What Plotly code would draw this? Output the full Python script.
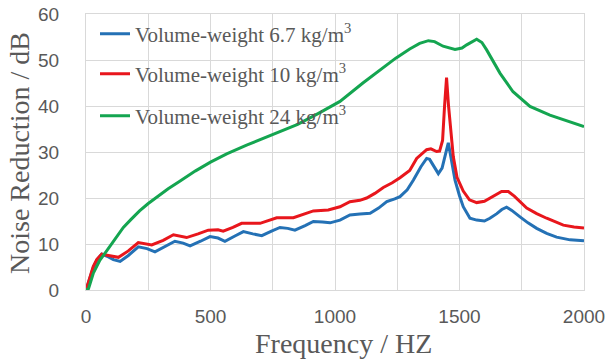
import plotly.graph_objects as go

# ---- data ----
freq_67 = [0, 15, 30, 45, 63, 90, 110, 137, 170, 210, 245, 277, 320, 357, 390, 418, 460, 498,
           530, 558, 600, 632, 670, 706, 745, 779, 810, 839, 880, 913, 950, 980, 1020, 1060,
           1100, 1141, 1175, 1208, 1240, 1261, 1290, 1315, 1345, 1368, 1380, 1395, 1415, 1430,
           1445, 1455, 1465, 1482, 1500, 1515, 1542, 1569, 1600, 1622, 1650, 1670, 1689, 1710,
           1743, 1775, 1810, 1850, 1890, 1944, 2000]
nr_67 = [0, 2.5, 5.0, 6.6, 7.8, 7.2, 6.6, 6.2, 7.5, 9.4, 9.0, 8.3, 9.6, 10.6, 10.2, 9.6, 10.6, 11.6,
         11.3, 10.6, 11.8, 12.7, 12.2, 11.8, 12.8, 13.6, 13.4, 13.0, 14.0, 14.9, 14.8, 14.6, 15.2, 16.3,
         16.5, 16.7, 17.8, 19.2, 19.8, 20.3, 21.8, 23.9, 26.8, 28.6, 28.4, 27.0, 25.3, 26.5,
         29.5, 32.0, 29.0, 23.9, 20.5, 18.1, 15.6, 15.2, 15.0, 15.6, 16.6, 17.5, 18.0, 17.3,
         15.9, 14.6, 13.4, 12.3, 11.5, 10.9, 10.7]

freq_10 = [0, 15, 29, 43, 63, 90, 130, 170, 210, 264, 310, 351, 404, 450, 491, 530, 551, 590, 625,
           699, 730, 766, 833, 870, 913, 973, 1020, 1060, 1100, 1127, 1160, 1194, 1230, 1261, 1300,
           1328, 1368, 1385, 1408, 1420, 1432, 1440, 1448, 1456, 1464, 1475, 1490, 1515, 1540,
           1569, 1600, 1636, 1669, 1696, 1720, 1770, 1810, 1850, 1917, 1960, 2000]
nr_10 = [0, 2.8, 5.1, 6.6, 7.8, 7.5, 7.1, 8.5, 10.3, 9.8, 10.8, 12.0, 11.4, 12.2, 13.0, 13.1, 12.8, 13.6, 14.5,
         14.5, 15.0, 15.7, 15.7, 16.4, 17.2, 17.4, 18.1, 19.2, 19.5, 20.0, 21.0, 22.3, 23.3, 24.4, 26.0,
         28.6, 30.5, 30.7, 30.1, 30.2, 32.5, 40.0, 46.2, 40.0, 35.0, 29.0, 24.5, 21.5, 19.6,
         19.0, 19.3, 20.3, 21.4, 21.4, 20.4, 17.8, 16.6, 15.6, 14.1, 13.7, 13.5]

freq_24 = [0, 10, 29, 56, 83, 110, 150, 180, 215, 250, 290, 330, 375, 440, 500, 565, 645, 752, 850, 930, 1020,
           1112, 1180, 1244, 1300, 1340, 1375, 1400, 1434, 1482, 1510, 1529, 1569, 1590, 1609, 1635,
           1663, 1715, 1783, 1863, 1930, 2000]
nr_24 = [0, 0.3, 3.6, 6.5, 8.5, 10.5, 13.6, 15.3, 17.2, 18.8, 20.5, 22.0, 23.6, 25.9, 27.8, 29.6, 31.5, 33.8, 36.0, 38.3, 41.0,
         45.0, 47.8, 50.4, 52.4, 53.6, 54.2, 54.0, 53.0, 52.3, 52.6, 53.3, 54.5, 53.8, 52.2, 49.8,
         47.1, 43.1, 39.9, 38.0, 36.7, 35.5]

series_names = ["Volume-weight 6.7 kg/m<sup>3</sup>",
                "Volume-weight 10 kg/m<sup>3</sup>",
                "Volume-weight 24 kg/m<sup>3</sup>"]
x_ticks = [0, 500, 1000, 1500, 2000]
y_ticks = [0, 10, 20, 30, 40, 50, 60]
x_title = "Frequency / HZ"
y_title = "Noise Reduction / dB"

colors = ["#2471b5", "#e8161c", "#14a550"]
serif = "Liberation Serif, Times New Roman, serif"
sans = "Liberation Sans, Arial, sans-serif"
grey = "#595959"
gridc = "#d9d9d9"

fig = go.Figure()
data = [(freq_67, nr_67), (freq_10, nr_10), (freq_24, nr_24)]
legends = ["legend", "legend2", "legend3"]
for (fx, fy), name, c, lg in zip(data, series_names, colors, legends):
    fig.add_trace(go.Scatter(x=fx, y=fy, mode="lines", name=name,
                             line=dict(color=c, width=3), legend=lg))

W, H = 608, 360
ml, mr, mt, mb = 86, 24, 14, 70
pw, ph = W - ml - mr, H - mt - mb
leg_y_px = [34, 74, 116]   # item centres, from the figure top
leg_common = dict(bgcolor="rgba(0,0,0,0)", borderwidth=0,
                  font=dict(family=serif, size=21, color=grey),
                  xanchor="left", yanchor="middle", x=9 / pw)
layout_legs = {}
for lg, ypx in zip(legends, leg_y_px):
    layout_legs[lg] = dict(leg_common, y=(H - mb - ypx) / ph)

fig.update_layout(
    width=W, height=H,
    margin=dict(l=ml, r=mr, t=mt, b=mb, autoexpand=False),
    paper_bgcolor="white", plot_bgcolor="white",
    showlegend=True,
    xaxis=dict(range=[0, 2000], tickvals=x_ticks, ticktext=[str(v) for v in x_ticks],
               automargin=False,
               showgrid=True, gridcolor=gridc, gridwidth=1,
               minor=dict(dtick=250, showgrid=True, gridcolor=gridc, gridwidth=1),
               showline=True, mirror=True, linecolor=gridc, linewidth=1,
               zeroline=False, ticks="",
               tickfont=dict(family=sans, size=19, color=grey), ticklabelstandoff=9),
    yaxis=dict(range=[0, 60], tickvals=y_ticks, ticktext=[str(v) for v in y_ticks],
               automargin=False,
               showgrid=True, gridcolor=gridc, gridwidth=1,
               showline=True, mirror=True, linecolor=gridc, linewidth=1,
               zeroline=False, ticks="",
               tickfont=dict(family=sans, size=19, color=grey), ticklabelstandoff=22),
    annotations=[
        dict(text=x_title, xref="paper", yref="paper",
             x=(343 - ml) / pw, y=-(343 - (H - mb)) / ph,
             xanchor="center", yanchor="middle", showarrow=False,
             font=dict(family=serif, size=28, color=grey)),
        dict(text=y_title, xref="paper", yref="paper", textangle=-90,
             x=-(ml - 19) / pw, y=(H - mb - 153) / ph,
             xanchor="center", yanchor="middle", showarrow=False,
             font=dict(family=serif, size=28, color=grey)),
    ],
    **layout_legs,
)
# remove the browser's default 8px page margin so the figure sits at the window origin
fig.write_html("out.html", config={"displayModeBar": False},
               post_script="document.body.style.margin='0';")
